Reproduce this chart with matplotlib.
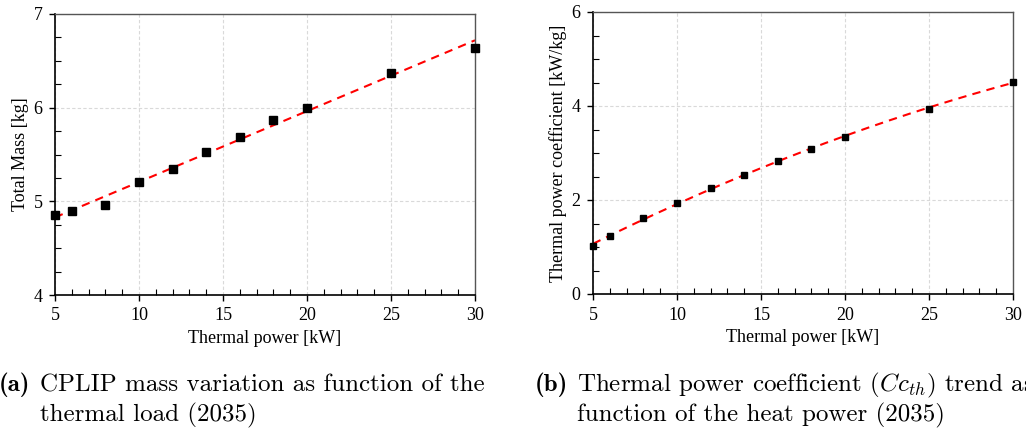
import matplotlib
matplotlib.use('Agg')
import matplotlib.pyplot as plt
from matplotlib.ticker import MultipleLocator
import numpy as np

# data
power = [5, 6, 8, 10, 12, 14, 16, 18, 20, 25, 30]
mass = [4.85, 4.90, 4.96, 5.21, 5.34, 5.53, 5.69, 5.87, 6.00, 6.37, 6.64]
coeff = [1.03, 1.23, 1.62, 1.94, 2.25, 2.54, 2.83, 3.08, 3.34, 3.94, 4.52]

plt.rcParams['font.family'] = ['Liberation Serif', 'DejaVu Serif']
plt.rcParams['mathtext.fontset'] = 'cm'

fig = plt.figure(figsize=(10.26, 4.30), dpi=100)
W, H = 1026.0, 430.0
ax1 = fig.add_axes([55 / W, 1 - 295 / H, 420 / W, 281 / H])
ax2 = fig.add_axes([593 / W, 1 - 294 / H, 420 / W, 282 / H])

xs = np.linspace(5, 30, 200)

# left: linear trend
p1 = np.polyfit(power, mass, 1)
ax1.plot(xs, np.polyval(p1, xs), '--', color='#ff0000', lw=1.5, dashes=(4, 3), zorder=2)
ax1.plot(power, mass, 's', color='black', ms=6, zorder=3, clip_on=False)

# right: quadratic trend
p2 = np.polyfit(power, coeff, 2)
ax2.plot(xs, np.polyval(p2, xs), '--', color='#ff0000', lw=1.5, dashes=(4, 3), zorder=2)
ax2.plot(power, coeff, 's', color='black', ms=4.5, zorder=3, clip_on=False)

ax1.set_ylim(4, 7)
ax1.yaxis.set_major_locator(MultipleLocator(1))
ax1.yaxis.set_minor_locator(MultipleLocator(0.25))
ax1.set_ylabel('Total Mass [kg]', fontsize=13, labelpad=3)

ax2.set_ylim(0, 6)
ax2.yaxis.set_major_locator(MultipleLocator(2))
ax2.yaxis.set_minor_locator(MultipleLocator(0.5))
ax2.set_ylabel('Thermal power coefficient [kW/kg]', fontsize=13, labelpad=3)

for ax in (ax1, ax2):
    ax.set_xlim(5, 30)
    ax.xaxis.set_major_locator(MultipleLocator(5))
    ax.xaxis.set_minor_locator(MultipleLocator(1))
    ax.set_xlabel('Thermal power [kW]', fontsize=13, labelpad=4)
    ax.grid(True, which='major', color='#d9d9d9', ls='--', lw=0.8, dashes=(3, 2))
    ax.set_axisbelow(True)
    ax.tick_params(which='major', direction='out', length=4, width=1, labelsize=13, pad=5)
    ax.tick_params(which='minor', direction='in', length=4, width=0.8)
    ax.tick_params(top=False, right=False, which='both')
    for s in ('left', 'bottom'):
        ax.spines[s].set_color('black')
        ax.spines[s].set_linewidth(1.2)
    for s in ('top', 'right'):
        ax.spines[s].set_color('#555555')
        ax.spines[s].set_linewidth(1.0)

# captions
cap = dict(fontsize=18, va='baseline', ha='left')
fig.text(-1 / W, 1 - 391 / H, '(a)', family='cmb10', **cap)
fig.text(40 / W, 1 - 391 / H, 'CPLIP mass variation as function of the', family='cmr10', **cap)
fig.text(40 / W, 1 - 421 / H, 'thermal load (2035)', family='cmr10', **cap)
fig.text(535 / W, 1 - 391 / H, '(b)', family='cmb10', **cap)
fig.text(577 / W, 1 - 391 / H, r'Thermal power coefficient ($Cc_{th}$) trend as', family='cmr10', **cap)
fig.text(577 / W, 1 - 421 / H, 'function of the heat power (2035)', family='cmr10', **cap)

plt.savefig('out.png', dpi=100)
